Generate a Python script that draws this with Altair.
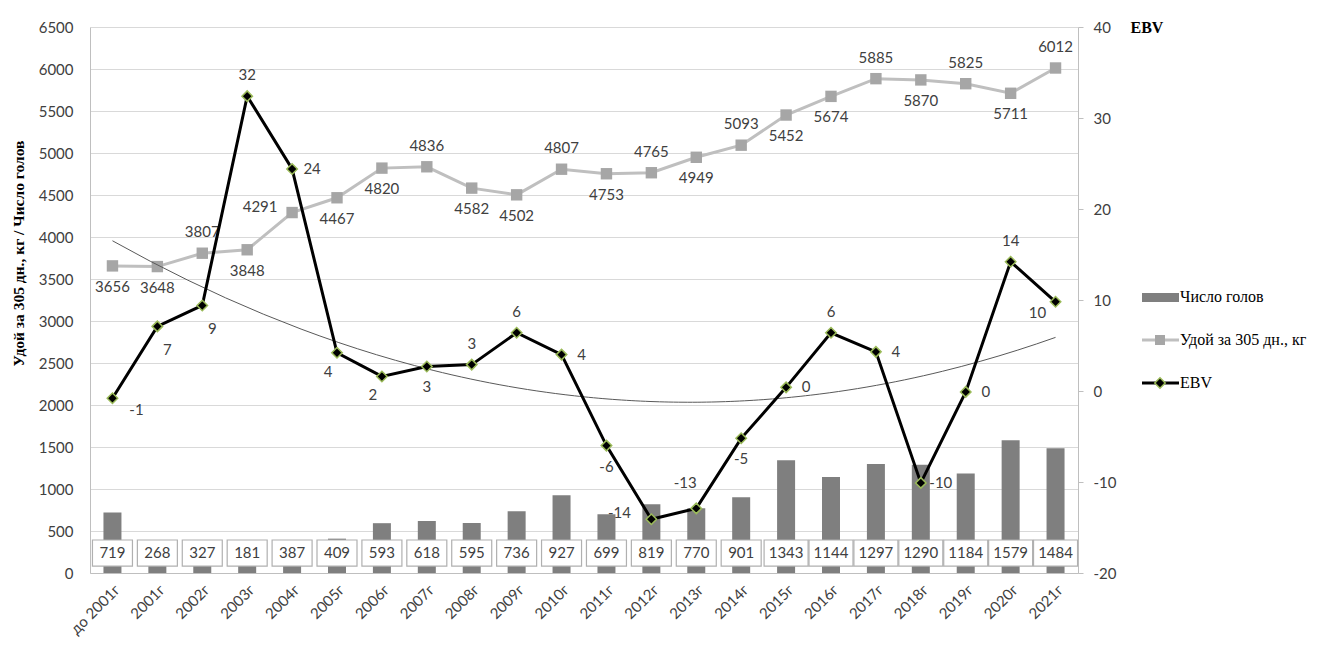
import altair as alt
import pandas as pd

years = ["до 2001г", "2001г", "2002г", "2003г", "2004г", "2005г", "2006г", "2007г",
         "2008г", "2009г", "2010г", "2011г", "2012г", "2013г", "2014г", "2015г",
         "2016г", "2017г", "2018г", "2019г", "2020г", "2021г"]
heads = [719, 268, 327, 181, 387, 409, 593, 618, 595, 736, 927, 699, 819, 770,
         901, 1343, 1144, 1297, 1290, 1184, 1579, 1484]
yield_kg = [3656, 3648, 3807, 3848, 4291, 4467, 4820, 4836, 4582, 4502, 4807,
            4753, 4765, 4949, 5093, 5452, 5674, 5885, 5870, 5825, 5711, 6012]
ebv = [-0.8, 7.1, 9.4, 32.4, 24.4, 4.2, 1.6, 2.7, 2.9, 6.4, 4.0, -6.0, -14.1,
       -12.9, -5.2, 0.4, 6.4, 4.3, -10.1, -0.1, 14.2, 9.8]

# label placement codes (layout only)
yield_pos = ["b", "b", "a", "b", "l", "b", "b", "a", "b", "b", "a", "b", "a", "b",
             "a", "b", "b", "a", "b", "a", "b", "a"]
ebv_pos = ["rb", "br", "br", "a", "r", "bl", "bl", "b", "a", "a", "r", "b", "l",
           "al", "b", "r", "a", "r", "r", "r", "a", "lb"]

legend_labels = ["Число голов", "Удой за 305 дн., кг", "EBV"]

df = pd.DataFrame({
    "year": years,
    "idx": list(range(len(years))),
    "heads": heads,
    "yield": yield_kg,
    "ebv": ebv,
    "ypos": yield_pos,
    "epos": ebv_pos,
})

W, H = 988, 546
NUM_FONT = "Lato"
TXT = "#404040"

xscale = alt.Scale(domain=years, paddingInner=0, paddingOuter=0)
X = alt.X("year:N", sort=years, scale=xscale,
          axis=alt.Axis(title=None, labelAngle=-45, labelFont=NUM_FONT, labelFontSize=15,
                        labelColor=TXT, ticks=False, domainColor="#bfbfbf",
                        labelPadding=9, labelAlign="right", labelBaseline="top"))
X_noaxis = alt.X("year:N", sort=years, scale=xscale, axis=None)

lscale = alt.Scale(domain=[0, 6500], nice=False, zero=True)
rscale = alt.Scale(domain=[-20, 40], nice=False, zero=False)

base = alt.Chart(df)

bars = base.mark_bar(size=18, color="#7f7f7f").encode(
    x=X,
    y=alt.Y("heads:Q", scale=lscale,
            axis=alt.Axis(values=list(range(0, 6501, 500)), format="d",
                          title="Удой за 305 дн., кг / Число голов",
                          titleFont="Liberation Serif", titleFontSize=15.5,
                          titleFontWeight="bold", titleColor="#000000",
                          titleX=-72, titleY=226, titleBaseline="middle",
                          titleAlign="center", titleAngle=-90,
                          grid=True, gridColor="#d9d9d9", gridWidth=1.2,
                          domainColor="#bfbfbf", ticks=False,
                          labelFont=NUM_FONT, labelFontSize=15, labelColor=TXT,
                          labelPadding=17)),
)

boxes3 = base.transform_filter("datum.heads < 1000").mark_bar(
    size=40, fill="white", stroke="#b0b0b0", strokeWidth=1.2).encode(
    x=X_noaxis, y=alt.YDatum(83, scale=lscale, axis=None), y2=alt.Y2Datum(393))
boxes4 = base.transform_filter("datum.heads >= 1000").mark_bar(
    size=44, fill="white", stroke="#b0b0b0", strokeWidth=1.2).encode(
    x=X_noaxis, y=alt.YDatum(83, scale=lscale, axis=None), y2=alt.Y2Datum(393))
box_text = base.mark_text(font=NUM_FONT, fontSize=15, color=TXT, baseline="middle").encode(
    x=X_noaxis, y=alt.YDatum(238, scale=lscale, axis=None),
    text=alt.Text("heads:Q", format="d"))

yline = base.mark_line(color="#bfbfbf", strokeWidth=3).encode(
    x=X_noaxis, y=alt.Y("yield:Q", scale=lscale, axis=None))
ypts = base.mark_point(shape="square", size=130, filled=True, color="#a6a6a6", opacity=1).encode(
    x=X_noaxis, y=alt.Y("yield:Q", scale=lscale, axis=None))

off = {"a": (0, -21), "b": (0, 21), "l": (-32, -6), "r": (20, 0), "rb": (24, 12),
       "br": (10, 24), "bl": (-9, 19), "al": (-11, -25), "lb": (-18, 11)}


def label_layers(field, posfield, codes, scale, fmt):
    out = []
    for c in sorted(set(codes)):
        dx, dy = off[c]
        out.append(base.transform_filter(f"datum.{posfield} == '{c}'").transform_calculate(
            lab=fmt).mark_text(font=NUM_FONT, fontSize=15, color=TXT, dx=dx, dy=dy,
                               baseline="middle", align="center").encode(
            x=X_noaxis, y=alt.Y(f"{field}:Q", scale=scale, axis=None), text="lab:N"))
    return out


ylabels = label_layers("yield", "ypos", yield_pos, lscale, "toString(datum['yield'])")

eline = base.mark_line(color="#000000", strokeWidth=3).encode(
    x=X_noaxis,
    y=alt.Y("ebv:Q", scale=rscale,
            axis=alt.Axis(orient="right", values=list(range(-20, 41, 10)), grid=False,
                          domainColor="#bfbfbf", tickColor="#bfbfbf", tickSize=5,
                          labelFont=NUM_FONT, labelFontSize=15, labelColor=TXT,
                          labelPadding=10, labelExpr="toString(datum.value)",
                          title="EBV", titleAngle=0, titleX=52, titleY=0,
                          titleAlign="left", titleBaseline="middle",
                          titleFont="Liberation Serif", titleFontSize=16,
                          titleFontWeight="bold", titleColor="#000000")))
epts = base.mark_point(shape="diamond", size=110, filled=True, fill="#000000",
                       stroke="#9bbb59", strokeWidth=1.5, opacity=1).encode(
    x=X_noaxis, y=alt.Y("ebv:Q", scale=rscale, axis=None))
elabels = label_layers("ebv", "epos", ebv_pos, rscale, "toString(round(datum.ebv))")

trend = base.transform_regression("idx", "ebv", method="poly", order=2).mark_line(
    color="#595959", strokeWidth=1).encode(
    x=alt.X("idx:Q", scale=alt.Scale(domain=[-0.5, len(years) - 0.5], nice=False, zero=False),
            axis=None),
    y=alt.Y("ebv:Q", scale=rscale, axis=None))

# legend
leg_bar = alt.Chart(pd.DataFrame({"t": [legend_labels[0]]})).mark_rect(color="#7f7f7f").encode(
    x=alt.value(1052), x2=alt.value(1089), y=alt.value(266), y2=alt.value(275))
leg_l1 = alt.Chart(pd.DataFrame({"t": [legend_labels[1]]})).mark_rule(
    color="#bfbfbf", strokeWidth=3).encode(x=alt.value(1052), x2=alt.value(1089), y=alt.value(313))
leg_p1 = alt.Chart(pd.DataFrame({"t": [legend_labels[1]]})).mark_point(
    shape="square", size=100, filled=True, color="#a6a6a6", opacity=1).encode(
    x=alt.value(1070), y=alt.value(313))
leg_l2 = alt.Chart(pd.DataFrame({"t": [legend_labels[2]]})).mark_rule(
    color="#000000", strokeWidth=3).encode(x=alt.value(1052), x2=alt.value(1089), y=alt.value(356))
leg_p2 = alt.Chart(pd.DataFrame({"t": [legend_labels[2]]})).mark_point(
    shape="diamond", size=110, filled=True, fill="#000000", stroke="#9bbb59",
    strokeWidth=1.5, opacity=1).encode(x=alt.value(1070), y=alt.value(356))
leg_text = [
    alt.Chart(pd.DataFrame({"t": [lab]})).mark_text(
        font="Liberation Serif", fontSize=16, color="#000000", align="left",
        baseline="middle").encode(x=alt.value(1090), y=alt.value(yy), text="t:N")
    for lab, yy in zip(legend_labels, [270, 313, 356])
]

chart = alt.layer(
    bars, boxes3, boxes4, box_text, yline, ypts, *ylabels,
    trend, eline, epts, *elabels,
    leg_bar, leg_l1, leg_p1, leg_l2, leg_p2, *leg_text,
).resolve_scale(
    x="independent", y="independent"
).properties(
    width=W, height=H,
    autosize=alt.AutoSizeParams(type="none"),
    padding={"left": 82, "top": 19, "right": 250, "bottom": 69},
    background="white",
).configure_view(stroke=None)

chart.save("out.html", embed_options={"renderer": "svg", "actions": False})
